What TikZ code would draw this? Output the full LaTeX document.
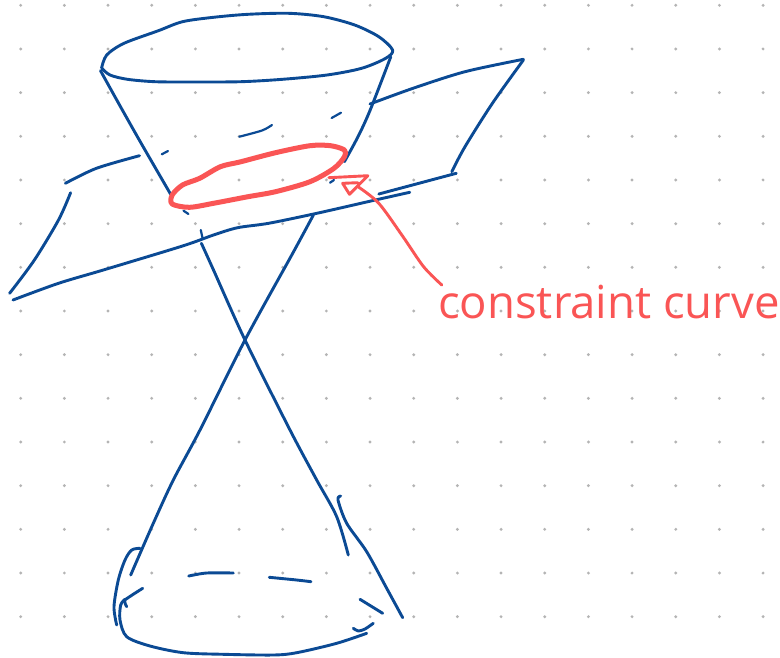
\documentclass[tikz,border=0pt]{standalone}
\usepackage{fontspec}
\setmainfont{Open Sans}
\definecolor{penblue}{HTML}{0b4a94}
\definecolor{penred}{HTML}{fa5555}
\definecolor{griddot}{HTML}{b4b4b4}

\begin{document}
\begin{tikzpicture}[
  x=1pt, y=-1pt,
  griddotmark/.style={fill=griddot, draw=none},
  bluepen/.style={draw=penblue, line width=2.9pt, line cap=round, line join=round},
  thinpen/.style={draw=penblue, line width=2.2pt, line cap=round, line join=round},
  redpen/.style={draw=penred, line width=2.9pt, line cap=round, line join=round},
  curvepen/.style={draw=penred, line width=5pt, line cap=round, line join=round},
  labeltext/.style={text=penred, font=\fontsize{45.5}{50}\selectfont, inner sep=0pt}
]
\useasboundingbox (0,0) rectangle (780,657);
\fill[white] (0,0) rectangle (780,657);

% Kropki
\foreach \i in {0,...,17}
  \foreach \j in {0,...,14}
    \fill[griddotmark] ({20.7+43.67*\i},{5.3+43.67*\j}) circle (1.6);

% Gorny stozek
\draw[bluepen] plot[smooth, tension=0.5] coordinates {(101.6,68) (106.7,55) (124,43.3) (158.4,30.7) (182.5,21.7) (213.5,17.3) (248,14.3) (289,13.3) (323.7,16.7) (354.7,25) (378.8,36.7) (392.6,50) (385.7,58.3) (361.6,68.3) (327,75) (282.4,79.3) (241,81.7) (192.8,82) (155,81.7) (127.4,79.3) (110,75) (101.6,68)};
\draw[bluepen] plot[smooth, tension=0.5] coordinates {(100.5,70.7) (120.5,106.7) (141,143) (170.5,194)};
\draw[bluepen] plot[smooth, tension=0.5] coordinates {(390.8,56.7) (370.2,110) (358,136.7) (344.4,161.7)};

% Plaszczyzna
\draw[bluepen] plot[smooth, tension=0.5] coordinates {(370,104) (413,88.3) (465,71.7) (523.4,59.3)};
\draw[bluepen] plot[smooth, tension=0.5] coordinates {(523.4,60) (492.4,103.3) (465,146.7) (451.8,171.7)};
\draw[bluepen] (456.3,173.3) -- (378.8,194);
\draw[bluepen] plot[smooth, tension=0.5] coordinates {(409.8,192.3) (375.3,200) (316.8,213.3) (268.6,223.3) (237.6,227.7) (213.5,235) (182.5,246) (103.3,270) (58.5,283.3) (13,300)};
\draw[bluepen] plot[smooth, tension=0.5] coordinates {(65.4,183.3) (96.4,168.3) (139.5,155.7)};
\draw[bluepen] plot[smooth, tension=0.5] coordinates {(70.6,192.7) (58.5,220) (34.4,260) (9.6,293.3)};

% Kreski
\draw[thinpen] (161.8,154.3) -- (168,151);
\draw[thinpen] plot[smooth] coordinates {(239.3,136.7) (262,130.5) (272,125)};
\draw[thinpen] (331.6,118) -- (341,112.7);
\draw[thinpen] (183.5,210.7) -- (188.4,214);
\draw[thinpen] (200.8,230) -- (202.5,238);
\draw[thinpen] (330,182.7) -- (334,180);

% Dolny stozek
\draw[bluepen] plot[smooth, tension=0.5] coordinates {(201.4,243.3) (213.5,270) (245,340) (290,430) (316.7,480) (336.7,516.7) (348.3,555)};
\draw[bluepen] plot[smooth, tension=0.5] coordinates {(313.4,215) (292.7,253.3) (245,340) (200,430) (173.3,480) (153.3,523.3) (130.7,575)};
\draw[bluepen] plot[smooth, tension=0.5] coordinates {(340.7,496) (338,500) (346.7,523.3) (366.7,551.7) (386.7,588.3) (402.7,617.7)};
\draw[bluepen] plot[smooth, tension=0.5] coordinates {(140,548.3) (131.7,550) (125,560) (118.3,580) (114,606.7) (116.7,625)};
\draw[bluepen] plot[smooth, tension=0.3] coordinates {(142.7,588.3) (125,600) (126.7,606.7)};
\draw[bluepen] plot[smooth, tension=0.5] coordinates {(125,599.3) (120.7,605) (120,620) (126.7,636.7) (150,646) (183.3,652.7) (223.3,654.3) (273.3,655) (296.7,652.7) (336.7,643.3) (366.7,633.3)};
\draw[bluepen] plot[smooth, tension=0.5] coordinates {(353.3,628.3) (358.3,631) (365,629) (373.3,623.3)};
\draw[bluepen] (360,599.3) -- (382.7,613.3);
\draw[bluepen] plot[smooth, tension=0.5] coordinates {(188.7,576) (206.7,573) (233.3,573)};
\draw[bluepen] plot[smooth, tension=0.5] coordinates {(269.3,577.3) (296.7,580) (311,581.7)};

% Krzywa
\draw[curvepen] plot[smooth cycle, tension=0.5] coordinates {(344.4,150) (330.6,145.7) (310,145.7) (275.5,152.7) (241,161.7) (220.4,166.7) (199.7,178.3) (182.5,185) (172.2,195) (172.2,204) (189.4,207.3) (213.5,203.3) (248,196.7) (275.5,191.7) (310,181.7) (334,168.3) (344.4,156.7)};

% Opis
\node[labeltext] (curvelabel) at (609,302) {constraint curve};
\coordinate (labelend) at (441.8,285);
\coordinate (curvetip) at (367.8,175.7);
\draw[redpen] plot[smooth, tension=0.5] coordinates {(labelend) (423.6,266.7) (403,236.7) (378.8,203.3) (358,186.7)};
\draw[redpen] (328.9,177.7) -- (curvetip) -- (349.5,194.3) -- (342.6,183.3) -- (358,182.7);
\end{tikzpicture}
\end{document}
